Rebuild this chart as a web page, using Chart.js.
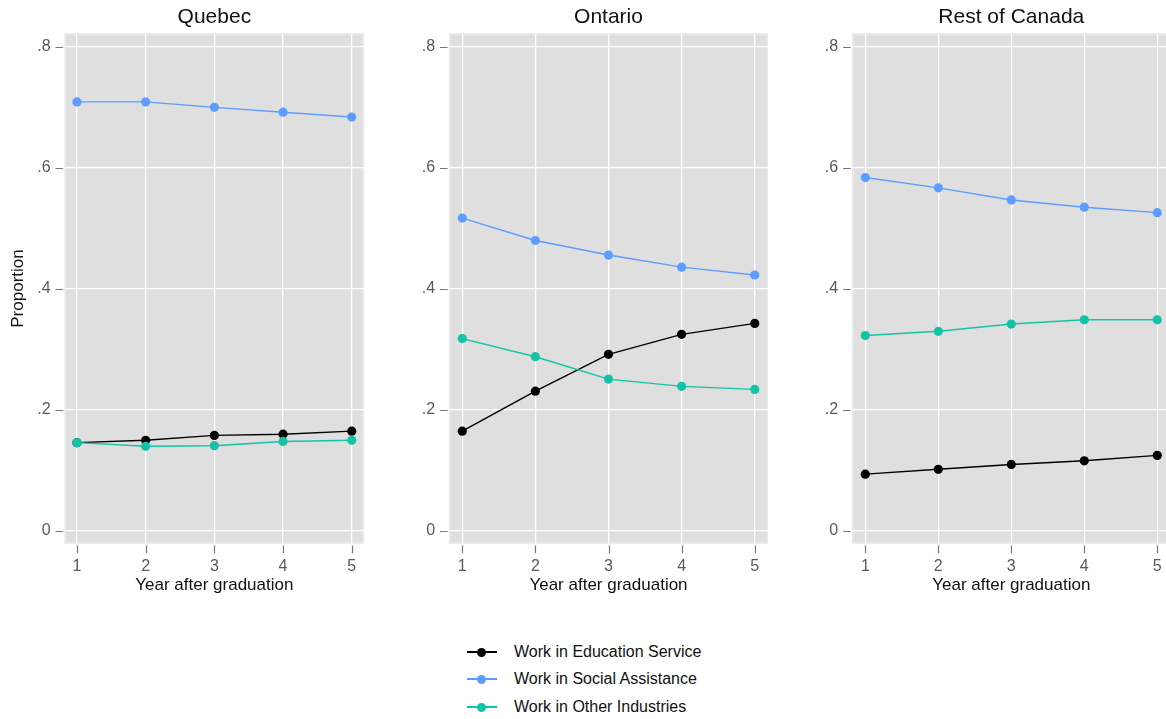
<!DOCTYPE html>
<html>
<head>
<meta charset="utf-8">
<script src="https://cdn.jsdelivr.net/npm/chart.js@4.4.1/dist/chart.umd.min.js"></script>
<style>
html, body { margin:0; padding:0; background:#fff; width:1166px; height:719px; overflow:hidden; position:relative; font-family:"Liberation Sans", Arial, Helvetica, sans-serif; }
canvas { position:absolute; top:0; }
.lg { position:absolute; left:467px; height:20px; width:320px; }
.lg .ln { position:absolute; left:0; top:9px; width:30px; height:2px; }
.lg .dt { position:absolute; left:10px; top:5.5px; width:9px; height:9px; border-radius:50%; }
.lg .tx { position:absolute; left:47px; top:0; line-height:20px; font-size:16px; color:#111; white-space:nowrap; }
</style>
</head>
<body>
<canvas id="c0" width="380" height="600" style="left:0px"></canvas>
<canvas id="c1" width="400" height="600" style="left:380px"></canvas>
<canvas id="c2" width="390" height="600" style="left:790px"></canvas>
<div id="legend"></div>
<script>
// ---- data ----
const years = [1, 2, 3, 4, 5];
const regions = ['Quebec', 'Ontario', 'Rest of Canada'];
const seriesNames = ['Work in Education Service', 'Work in Social Assistance', 'Work in Other Industries'];
const seriesColors = ['#000000', '#5c9dff', '#12c3a7'];

const quebecEducation = [0.146, 0.150, 0.158, 0.160, 0.165];
const quebecSocial    = [0.709, 0.709, 0.700, 0.692, 0.684];
const quebecOther     = [0.146, 0.140, 0.141, 0.148, 0.150];

const ontarioEducation = [0.165, 0.231, 0.292, 0.325, 0.343];
const ontarioSocial    = [0.517, 0.480, 0.456, 0.436, 0.423];
const ontarioOther     = [0.318, 0.288, 0.251, 0.239, 0.234];

const restEducation = [0.094, 0.102, 0.110, 0.116, 0.125];
const restSocial    = [0.584, 0.567, 0.547, 0.535, 0.526];
const restOther     = [0.323, 0.330, 0.342, 0.349, 0.349];

const yTickValues = [0, 0.2, 0.4, 0.6, 0.8];
const yTickLabels = ['0', '.2', '.4', '.6', '.8'];
const xTickLabels = ['1', '2', '3', '4', '5'];
const yAxisTitle = 'Proportion';
const xAxisTitle = 'Year after graduation';

const panelData = [
  [quebecEducation, quebecSocial, quebecOther],
  [ontarioEducation, ontarioSocial, ontarioOther],
  [restEducation, restSocial, restOther]
];

// ---- layout ----
const panelLayout = [
  { yAxisWidth: 64.6, rightPad: 15.9, showYTitle: true },
  { yAxisWidth: 69.1, rightPad: 12.1, showYTitle: false },
  { yAxisWidth: 62.2, rightPad: 9.6, showYTitle: false }
];
const FONT = '"Liberation Sans", Arial, Helvetica, sans-serif';

const plotBg = {
  id: 'plotBg',
  beforeDraw(chart) {
    const { ctx, chartArea: a } = chart;
    ctx.save();
    ctx.fillStyle = '#dfdfdf';
    ctx.fillRect(a.left, a.top, a.right - a.left, a.bottom - a.top);
    ctx.strokeStyle = '#e9e9e9';
    ctx.lineWidth = 1.5;
    ctx.strokeRect(a.left + 0.75, a.top + 0.75, a.right - a.left - 1.5, a.bottom - a.top - 1.5);
    ctx.restore();
  }
};
const tickMarks = {
  id: 'tickMarks',
  afterDraw(chart) {
    const { ctx, chartArea: a, scales } = chart;
    ctx.save();
    ctx.strokeStyle = '#777';
    ctx.lineWidth = 1.2;
    ctx.beginPath();
    scales.y.ticks.forEach(t => {
      const py = Math.round(scales.y.getPixelForValue(t.value)) + 0.5;
      ctx.moveTo(a.left - 9.1, py); ctx.lineTo(a.left - 1.5, py);
    });
    scales.x.ticks.forEach(t => {
      const px = Math.round(scales.x.getPixelForValue(t.value)) + 0.5;
      ctx.moveTo(px, a.bottom + 2); ctx.lineTo(px, a.bottom + 9.8);
    });
    ctx.stroke();
    ctx.restore();
  }
};

regions.forEach((region, p) => {
  const L = panelLayout[p];
  const datasets = seriesNames.map((name, s) => ({
    label: name,
    data: years.map((yr, i) => ({ x: yr, y: panelData[p][s][i] })),
    borderColor: seriesColors[s],
    backgroundColor: seriesColors[s],
    borderWidth: 1.4,
    pointRadius: 4.6,
    pointBorderWidth: 0,
    pointHoverRadius: 4.6,
    tension: 0,
    order: s === 2 ? 0 : (s === 0 ? 1 : 2)
  }));
  new Chart(document.getElementById('c' + p), {
    type: 'line',
    data: { datasets },
    plugins: [plotBg, tickMarks],
    options: {
      responsive: false,
      animation: false,
      devicePixelRatio: 1,
      layout: { padding: { left: 0, right: L.rightPad, top: 0, bottom: 0 } },
      plugins: {
        legend: { display: false },
        tooltip: { enabled: false },
        title: {
          display: true, text: region, fullSize: false,
          color: '#111', font: { family: FONT, size: 21, weight: 'normal' },
          padding: { top: 4.9, bottom: 3.4 }
        }
      },
      scales: {
        x: {
          type: 'linear', min: 0.82, max: 5.18,
          afterBuildTicks: s => { s.ticks = years.map(v => ({ value: v })); },
          afterFit: s => { s.height = 56.5; },
          ticks: {
            autoSkip: false, padding: 13.9, color: '#5a5a5a',
            font: { family: FONT, size: 16 },
            callback: (v, i) => xTickLabels[i]
          },
          grid: { color: '#ffffff', lineWidth: 1.3, drawTicks: false },
          border: { display: false },
          title: {
            display: true, text: xAxisTitle, color: '#111',
            font: { family: FONT, size: 17 }, padding: { top: 0, bottom: 4.8 }
          }
        },
        y: {
          type: 'linear', min: -0.0206, max: 0.822,
          afterBuildTicks: s => { s.ticks = yTickValues.map(v => ({ value: v })); },
          afterFit: s => { s.width = L.yAxisWidth; },
          ticks: {
            autoSkip: false, padding: 14, color: '#5a5a5a',
            font: { family: FONT, size: 16 },
            callback: (v, i) => yTickLabels[i]
          },
          grid: { color: '#ffffff', lineWidth: 1.3, drawTicks: false },
          border: { display: false },
          title: {
            display: L.showYTitle, text: yAxisTitle, color: '#111',
            font: { family: FONT, size: 17 }, padding: { top: 7.8, bottom: 0 }
          }
        }
      }
    }
  });
});

// ---- legend ----
const legendRowsY = [652, 679, 707];
const legend = document.getElementById('legend');
seriesNames.forEach((name, s) => {
  const row = document.createElement('div');
  row.className = 'lg';
  row.style.top = (legendRowsY[s] - 10) + 'px';
  row.innerHTML = '<div class="ln" style="background:' + seriesColors[s] + '"></div>' +
                  '<div class="dt" style="background:' + seriesColors[s] + '"></div>' +
                  '<div class="tx">' + name + '</div>';
  legend.appendChild(row);
});
</script>
</body>
</html>
